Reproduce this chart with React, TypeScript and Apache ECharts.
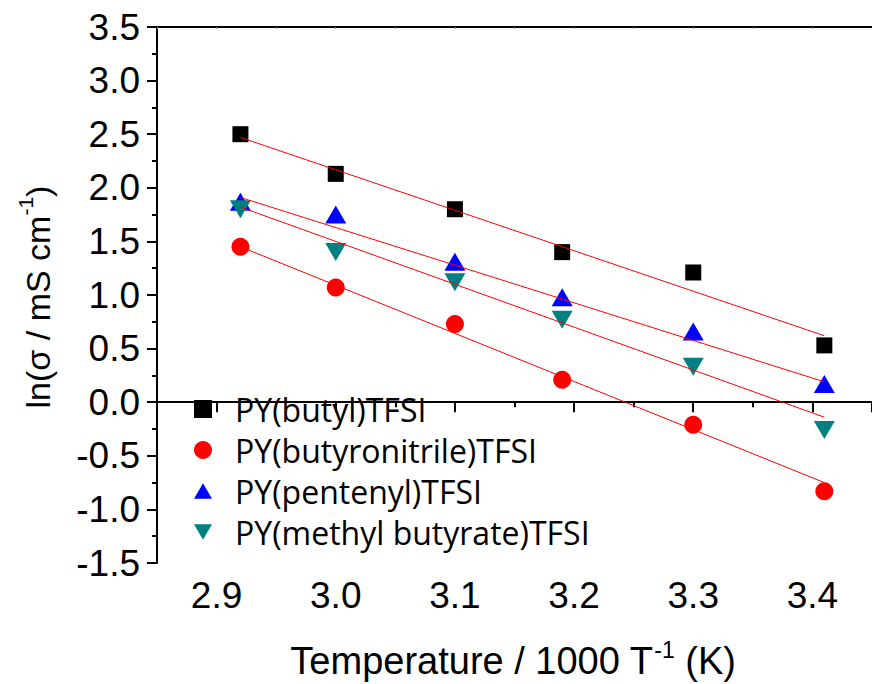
import React, { useEffect, useRef } from 'react';
import * as echarts from 'echarts';

// Temperature / 1000 T^-1 (K)
const xValues = [2.92, 3.0, 3.1, 3.19, 3.3, 3.41];

// ln(sigma / mS cm^-1)
const butyl = [2.5, 2.13, 1.8, 1.4, 1.21, 0.53];
const butyronitrile = [1.45, 1.07, 0.73, 0.21, -0.21, -0.83];
const pentenyl = [1.87, 1.75, 1.31, 0.98, 0.66, 0.17];
const methylButyrate = [1.8, 1.4, 1.12, 0.77, 0.33, -0.26];

// fitted lines (end points)
const fitX = [2.92, 3.41];
const butylFit = [2.47, 0.62];
const butyronitrileFit = [1.45, -0.75];
const pentenylFit = [1.91, 0.19];
const methylButyrateFit = [1.82, -0.14];

const seriesNames = [
  'PY(butyl)TFSI',
  'PY(butyronitrile)TFSI',
  'PY(pentenyl)TFSI',
  'PY(methyl butyrate)TFSI',
];

const SQUARE = 'path://M0,0H16V16H0Z';
const TRI_UP = 'path://M10.5,0L21,18L0,18Z';
const TRI_DOWN = 'path://M0,0L21,0L10.5,18Z';

const AXIS_FONT = '"Liberation Sans", Arial, sans-serif';

function pairs(xs: number[], ys: number[]) {
  return xs.map((x, i) => [x, ys[i]]);
}

export default function App() {
  const ref = useRef<HTMLDivElement>(null);
  useEffect(() => {
    if (!ref.current) return;
    const chart = echarts.init(ref.current, null, { renderer: 'svg' });
    const fmt = (v: number) => v.toFixed(1);
    const axisLineStyle = { color: '#000', width: 2 };
    const fitLine = (name: string, ys: number[]) => ({
      type: 'line',
      name: name + ' fit',
      data: pairs(fitX, ys),
      symbol: 'none',
      lineStyle: { color: '#ff0000', width: 1 },
      z: 5,
      silent: true,
    });
    chart.setOption({
      animation: false,
      backgroundColor: '#fff',
      grid: { left: 157, top: 27, width: 726, height: 536, containLabel: false },
      xAxis: [
        {
          type: 'value',
          min: 2.85,
          max: 3.45,
          splitNumber: 6,
          minInterval: 0.1,
          maxInterval: 0.1,
          position: 'bottom',
          axisLine: { show: true, lineStyle: axisLineStyle },
          axisTick: { show: true, length: 10, lineStyle: { color: '#000', width: 2 } },
          minorTick: { show: true, splitNumber: 2, length: 5, lineStyle: { color: '#000', width: 2 } },
          splitLine: { show: false },
          axisLabel: {
            formatter: fmt,
            fontSize: 37,
            color: '#000',
            fontFamily: AXIS_FONT,
            margin: 14,
            showMinLabel: false,
            showMaxLabel: false,
          },
        },
        {
          type: 'value',
          min: 2.85,
          max: 3.45,
          splitNumber: 6,
          minInterval: 0.1,
          maxInterval: 0.1,
          position: 'top',
          axisLine: { show: true, lineStyle: axisLineStyle },
          axisTick: { show: true, inside: true, length: 2, lineStyle: { color: '#888', width: 1 } },
          minorTick: { show: true, splitNumber: 2, length: 2, lineStyle: { color: '#888', width: 1 } },
          splitLine: { show: false },
          axisLabel: { show: false },
        },
      ],
      yAxis: {
        type: 'value',
        min: -1.5,
        max: 3.5,
        interval: 0.5,
        axisLine: { show: true, lineStyle: axisLineStyle },
        axisTick: { show: true, length: 10, lineStyle: { color: '#000', width: 2 } },
        minorTick: { show: true, splitNumber: 2, length: 5, lineStyle: { color: '#000', width: 2 } },
        splitLine: { show: false },
        axisLabel: {
          formatter: fmt,
          fontSize: 37,
          color: '#000',
          fontFamily: AXIS_FONT,
          margin: 17,
        },
      },
      legend: {
        orient: 'vertical',
        left: 189,
        top: 386,
        padding: 5,
        itemWidth: 18,
        itemHeight: 18,
        itemGap: 5,
        symbolKeepAspect: true,
        textStyle: {
          fontSize: 32,
          lineHeight: 36,
          color: '#000',
          padding: [0, 0, 0, 18],
          fontFamily: '"Open Sans", "Noto Sans", sans-serif',
        },
        data: [
          { name: seriesNames[0], icon: SQUARE },
          { name: seriesNames[1], icon: 'circle' },
          { name: seriesNames[2], icon: TRI_UP },
          { name: seriesNames[3], icon: TRI_DOWN },
        ],
      },
      series: [
        {
          type: 'scatter',
          name: seriesNames[0],
          data: pairs(xValues, butyl),
          symbol: SQUARE,
          symbolSize: 16,
          itemStyle: { color: '#000000', opacity: 1 },
          z: 3,
        },
        {
          type: 'scatter',
          name: seriesNames[1],
          data: pairs(xValues, butyronitrile),
          symbol: 'circle',
          symbolSize: 18,
          itemStyle: { color: '#ff0000', opacity: 1 },
          z: 3,
        },
        {
          type: 'scatter',
          name: seriesNames[2],
          data: pairs(xValues, pentenyl),
          symbol: TRI_UP,
          symbolSize: [21, 18],
          itemStyle: { color: '#0000ff', opacity: 1 },
          z: 3,
        },
        {
          type: 'scatter',
          name: seriesNames[3],
          data: pairs(xValues, methylButyrate),
          symbol: TRI_DOWN,
          symbolSize: [21, 18],
          itemStyle: { color: '#008080', opacity: 1 },
          z: 3,
        },
        fitLine(seriesNames[0], butylFit),
        fitLine(seriesNames[1], butyronitrileFit),
        fitLine(seriesNames[2], pentenylFit),
        fitLine(seriesNames[3], methylButyrateFit),
      ],
      graphic: [
        {
          type: 'text',
          x: 513,
          y: 659,
          style: {
            text: '{n|Temperature / 1000 T}{s|-1}{n| (K)}',
            align: 'center',
            verticalAlign: 'middle',
            fill: '#000',
            rich: {
              n: { fontSize: 38, fontFamily: AXIS_FONT, fill: '#000', lineHeight: 42, verticalAlign: 'bottom' },
              s: { fontSize: 23, fontFamily: AXIS_FONT, fill: '#000', lineHeight: 42, verticalAlign: 'top', padding: [0, 0, 0, 1] },
            },
          },
        },
        {
          type: 'text',
          x: 35,
          y: 297,
          rotation: Math.PI / 2,
          style: {
            text: '{n|ln(σ / mS cm}{s|-1}{n|)}',
            align: 'center',
            verticalAlign: 'middle',
            fill: '#000',
            rich: {
              n: { fontSize: 34, fontFamily: AXIS_FONT, fill: '#000', lineHeight: 40, verticalAlign: 'bottom' },
              s: { fontSize: 21, fontFamily: AXIS_FONT, fill: '#000', lineHeight: 40, verticalAlign: 'top' },
            },
          },
        },
      ],
    });
    return () => chart.dispose();
  }, []);
  return (
    <div
      ref={ref}
      style={{ position: 'absolute', left: 0, top: 0, width: 872, height: 684, overflow: 'hidden' }}
    />
  );
}
